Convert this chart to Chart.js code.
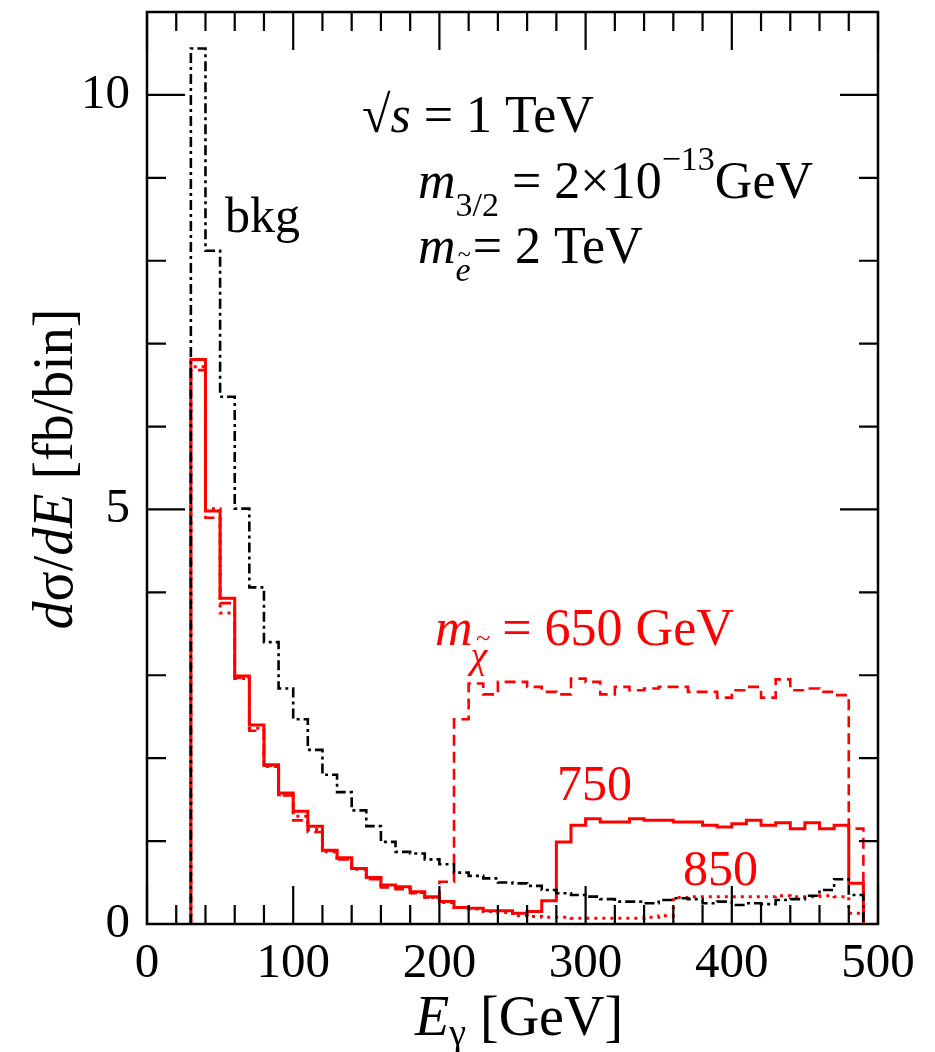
<!DOCTYPE html>
<html>
<head>
<meta charset="utf-8">
<script src="https://cdn.jsdelivr.net/npm/chart.js@4.4.0/dist/chart.umd.min.js"></script>
<style>
  body { margin: 0; background: #fff; }
  #wrap { width: 935px; height: 1052px; }
</style>
</head>
<body>
<div id="wrap"><canvas id="plot" width="935" height="1052"></canvas></div>
<script>
// ================= DATA =================
// bin edges in GeV (10 GeV bins, 30 .. 490)
const binEdges = [30, 40, 50, 60, 70, 80, 90, 100, 110, 120, 130, 140, 150, 160, 170, 180, 190,
  200, 210, 220, 230, 240, 250, 260, 270, 280, 290, 300, 310, 320, 330, 340, 350, 360, 370,
  380, 390, 400, 410, 420, 430, 440, 450, 460, 470, 480, 490];

// dsigma/dE [fb/bin], one value per bin
const bkgValues = [10.56, 8.12, 6.36, 5.01, 4.06, 3.40, 2.84, 2.47, 2.10, 1.80, 1.59, 1.37, 1.18, 0.99,
  0.87, 0.85, 0.78, 0.72, 0.62, 0.58, 0.55, 0.50, 0.49, 0.46, 0.41, 0.37, 0.35, 0.33, 0.30, 0.27,
  0.27, 0.25, 0.29, 0.31, 0.30, 0.25, 0.27, 0.23, 0.25, 0.24, 0.29, 0.30, 0.34, 0.41, 0.54, 0.35];

const m650Values = [6.68, 4.90, 3.87, 2.97, 2.33, 1.91, 1.55, 1.25, 1.11, 0.88, 0.78, 0.67, 0.54, 0.44,
  0.42, 0.37, 0.32, 0.51, 2.47, 2.90, 2.77, 2.92, 2.92, 2.86, 2.80, 2.77, 2.96, 2.92, 2.77, 2.86,
  2.82, 2.84, 2.86, 2.86, 2.80, 2.80, 2.73, 2.82, 2.86, 2.73, 2.95, 2.82, 2.84, 2.80, 2.76, 1.15];

const m750Values = [6.81, 4.98, 3.93, 2.99, 2.40, 1.92, 1.58, 1.36, 1.18, 0.89, 0.80, 0.67, 0.56, 0.47,
  0.45, 0.39, 0.33, 0.27, 0.20, 0.19, 0.16, 0.16, 0.13, 0.15, 0.28, 0.99, 1.19, 1.27, 1.23, 1.23,
  1.27, 1.25, 1.25, 1.23, 1.23, 1.19, 1.17, 1.21, 1.25, 1.19, 1.22, 1.15, 1.22, 1.15, 1.19, 0.49];

const m850Values = [6.72, 5.01, 3.75, 2.96, 2.36, 1.90, 1.56, 1.30, 1.14, 0.87, 0.79, 0.66, 0.55, 0.45,
  0.43, 0.38, 0.32, 0.26, 0.20, 0.18, 0.15, 0.14, 0.10, 0.09, 0.08, 0.08, 0.07, 0.07, 0.07, 0.07,
  0.07, 0.08, 0.10, 0.32, 0.33, 0.33, 0.33, 0.33, 0.33, 0.33, 0.34, 0.33, 0.33, 0.34, 0.33, 0.13];

// axis ticks
const xTickLabels = [0, 100, 200, 300, 400, 500];
const yTickLabels = [0, 5, 10];
const xMinorStep = 20;
const yMinorStep = 1;

// ================= HELPERS =================
const SERIF = "'Liberation Serif', 'DejaVu Serif', serif";
const RED = "#ff0000";

// histogram outline: start at 0, step through bins, drop back to 0
function histPoints(vals) {
  const pts = [{ x: binEdges[0], y: 0 }];
  vals.forEach((v, i) => pts.push({ x: binEdges[i], y: v }));
  const last = binEdges[vals.length];
  pts.push({ x: last, y: vals[vals.length - 1] });
  pts.push({ x: last, y: 0 });
  return pts;
}

// draw a row of text pieces with own fonts / vertical offsets
function drawRuns(ctx, x, y, runs, color) {
  ctx.fillStyle = color;
  ctx.textBaseline = "alphabetic";
  ctx.textAlign = "left";
  let cx = x;
  runs.forEach(r => {
    ctx.font = r.font;
    ctx.fillText(r.t, cx + (r.dx || 0), y + (r.dy || 0));
    cx += ctx.measureText(r.t).width + (r.dx || 0);
  });
  return cx;
}

function runsWidth(ctx, runs) {
  let w = 0;
  runs.forEach(r => { ctx.font = r.font; w += ctx.measureText(r.t).width + (r.dx || 0); });
  return w;
}

// ================= FRAME / TICKS / TEXT PLUGIN =================
const framePlugin = {
  id: "frame",
  afterDatasetsDraw(chart) {
    const ctx = chart.ctx;
    const a = chart.chartArea;
    const xs = chart.scales.x, ys = chart.scales.y;
    ctx.save();
    ctx.strokeStyle = "#000";
    ctx.lineWidth = 2.5;
    ctx.strokeRect(a.left, a.top, a.right - a.left, a.bottom - a.top);

    const major = 38, minor = 19;
    ctx.lineWidth = 2.2;
    ctx.beginPath();
    for (let v = xs.min; v <= xs.max; v += xMinorStep) {
      const px = xs.getPixelForValue(v);
      const len = xTickLabels.includes(v) ? major : minor;
      ctx.moveTo(px, a.bottom); ctx.lineTo(px, a.bottom - len);
      ctx.moveTo(px, a.top); ctx.lineTo(px, a.top + len);
    }
    for (let v = ys.min; v <= ys.max; v += yMinorStep) {
      const py = ys.getPixelForValue(v);
      const len = yTickLabels.includes(v) ? major : minor;
      ctx.moveTo(a.left, py); ctx.lineTo(a.left + len, py);
      ctx.moveTo(a.right, py); ctx.lineTo(a.right - len, py);
    }
    ctx.stroke();

    // tick labels
    ctx.fillStyle = "#000";
    ctx.font = "49px " + SERIF;
    ctx.textBaseline = "alphabetic";
    ctx.textAlign = "center";
    xTickLabels.forEach(v => ctx.fillText(String(v), xs.getPixelForValue(v), 977));
    ctx.textAlign = "right";
    ctx.textBaseline = "middle";
    yTickLabels.forEach(v => ctx.fillText(String(v), 130, ys.getPixelForValue(v)));
    ctx.restore();
  },
  afterDraw(chart) {
    const ctx = chart.ctx;
    const big = "52px " + SERIF, bigI = "italic 52px " + SERIF;
    const sub = "34px " + SERIF, subI = "italic 34px " + SERIF;
    ctx.save();

    // x title
    drawRuns(ctx, 415, 1035, [
      { t: "E", font: "italic 56px " + SERIF },
      { t: "γ", font: "38px " + SERIF, dy: 10 },
      { t: " [GeV]", font: "56px " + SERIF }
    ], "#000");

    // y title (rotated)
    const yRuns = [
      { t: "d", font: "italic 56px " + SERIF },
      { t: "σ", font: "56px " + SERIF },
      { t: "/", font: "56px " + SERIF },
      { t: "d", font: "italic 56px " + SERIF },
      { t: "E", font: "italic 56px " + SERIF },
      { t: " [fb/bin]", font: "56px " + SERIF }
    ];
    ctx.save();
    ctx.translate(72, 469);
    ctx.rotate(-Math.PI / 2);
    drawRuns(ctx, -runsWidth(ctx, yRuns) / 2, 0, yRuns, "#000");
    ctx.restore();

    // parameters
    drawRuns(ctx, 362, 132, [
      { t: "√", font: big }, { t: "s", font: bigI }, { t: " = 1 TeV", font: big }
    ], "#000");
    drawRuns(ctx, 418, 198, [
      { t: "m", font: bigI },
      { t: "3/2", font: sub, dy: 18 },
      { t: " = 2×10", font: big },
      { t: "−13", font: sub, dy: -28 },
      { t: "GeV", font: big }
    ], "#000");
    let x1 = drawRuns(ctx, 418, 263, [{ t: "m", font: bigI }], "#000");
    ctx.font = subI;
    const ew = ctx.measureText("e").width;
    drawRuns(ctx, x1, 281, [{ t: "e", font: subI }], "#000");
    drawRuns(ctx, x1 + ew * 0.15, 262, [{ t: "~", font: "24px " + SERIF }], "#000");
    drawRuns(ctx, x1 + ew + 2, 263, [{ t: "= 2 TeV", font: big }], "#000");

    drawRuns(ctx, 225, 232, [{ t: "bkg", font: "50px " + SERIF }], "#000");

    // signal labels
    let x2 = drawRuns(ctx, 435, 645, [{ t: "m", font: bigI }], RED);
    ctx.font = "italic 38px " + SERIF;
    const cw = ctx.measureText("χ").width;
    drawRuns(ctx, x2 - 2, 668, [{ t: "χ", font: "italic 38px " + SERIF }], RED);
    drawRuns(ctx, x2 + cw * 0.2, 646, [{ t: "~", font: "26px " + SERIF }], RED);
    drawRuns(ctx, x2 + cw, 645, [{ t: " = 650 GeV", font: big }], RED);

    drawRuns(ctx, 557, 800, [{ t: "750", font: "50px " + SERIF }], RED);
    drawRuns(ctx, 683, 885, [{ t: "850", font: "50px " + SERIF }], RED);
    ctx.restore();
  }
};

// ================= CHART =================
function histDataset(label, vals, color, dash, width) {
  return {
    label,
    data: histPoints(vals),
    borderColor: color,
    borderWidth: width,
    borderDash: dash,
    borderCapStyle: "butt",
    borderJoinStyle: "miter",
    stepped: true,
    pointRadius: 0,
    fill: false,
    tension: 0
  };
}

new Chart(document.getElementById("plot"), {
  type: "line",
  data: {
    datasets: [
      histDataset("bkg", bkgValues, "#000", [10, 4, 3, 4], 2.6),
      histDataset("650", m650Values, RED, [11, 6], 2.6),
      histDataset("750", m750Values, RED, [], 3),
      histDataset("850", m850Values, RED, [3, 5], 3)
    ]
  },
  options: {
    responsive: false,
    animation: false,
    layout: { padding: { left: 147, right: 57, top: 12, bottom: 128 } },
    plugins: { legend: { display: false }, tooltip: { enabled: false } },
    scales: {
      x: { type: "linear", min: 0, max: 500, display: false },
      y: { type: "linear", min: 0, max: 11, display: false }
    }
  },
  plugins: [framePlugin]
});
</script>
</body>
</html>
